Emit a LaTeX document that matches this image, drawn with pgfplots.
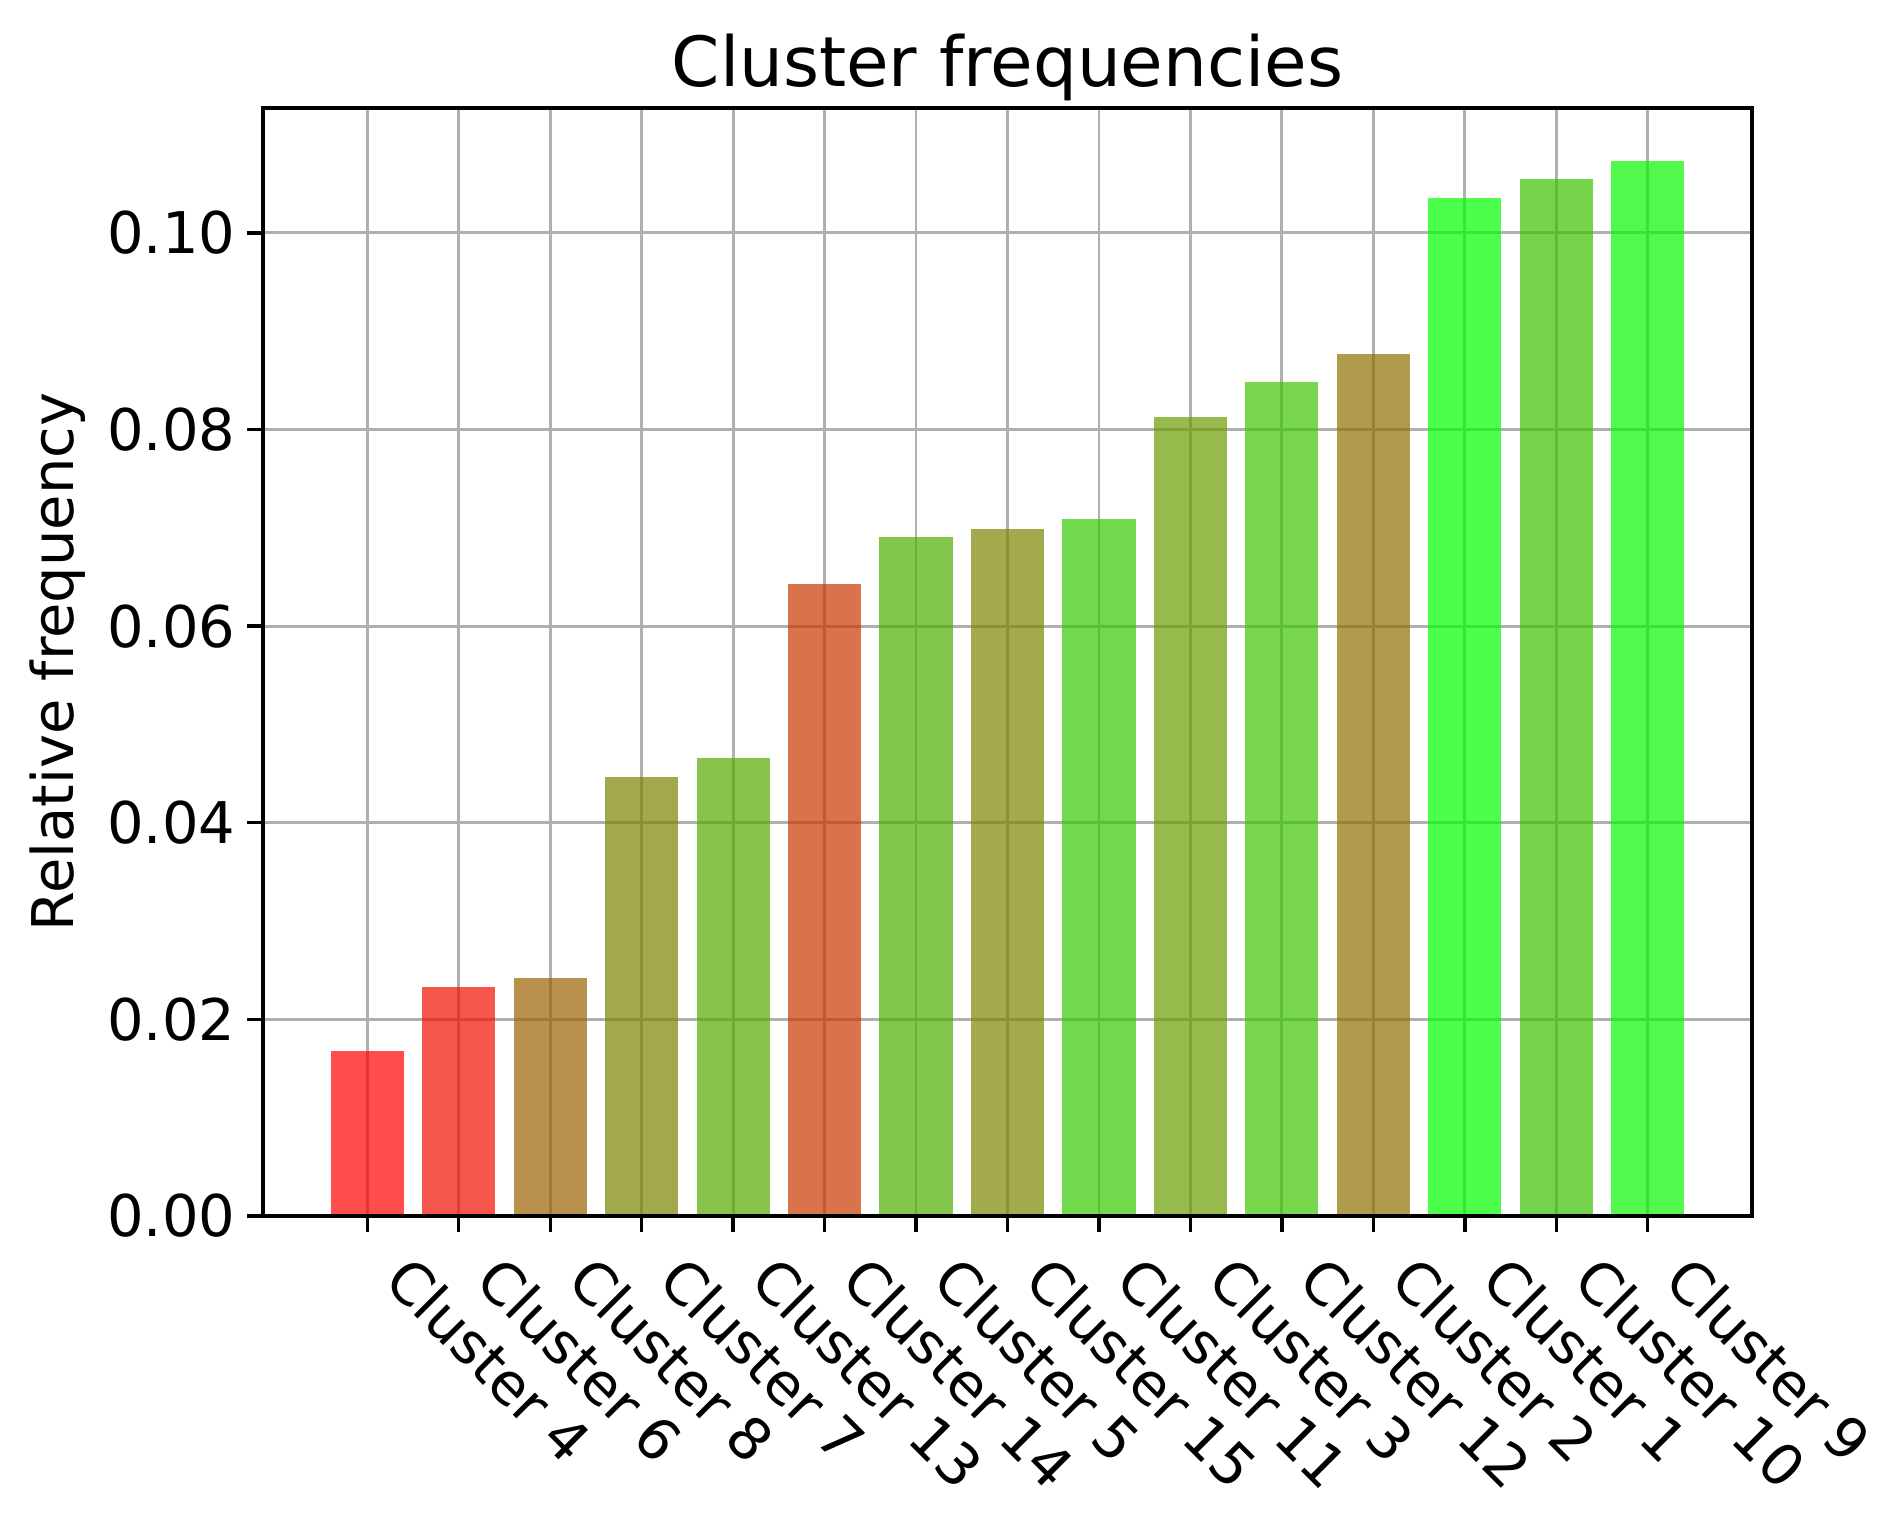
\documentclass[border=0pt]{standalone}
\usepackage{fontspec}
\setmainfont{DejaVu Sans}
\usepackage{pgfplots}
\pgfplotsset{compat=1.18}
\definecolor{gridgray}{RGB}{176,176,176}
\definecolor{c1}{RGB}{255,0,0}
\definecolor{c2}{RGB}{243,14,0}
\definecolor{c3}{RGB}{156,99,0}
\definecolor{c4}{RGB}{122,132,0}
\definecolor{c5}{RGB}{86,169,0}
\definecolor{c6}{RGB}{200,55,0}
\definecolor{c7}{RGB}{78,174,0}
\definecolor{c8}{RGB}{122,134,0}
\definecolor{c9}{RGB}{52,202,0}
\definecolor{c10}{RGB}{105,158,0}
\definecolor{c11}{RGB}{62,198,0}
\definecolor{c12}{RGB}{142,112,0}
\definecolor{c13}{RGB}{0,255,0}
\definecolor{c14}{RGB}{59,194,0}
\definecolor{c15}{RGB}{8,246,0}
\pgfplotsset{
  layers/mylayers/.define layer set={axis background,axis grid,main,axis ticks,axis lines,axis tick labels,axis descriptions,axis foreground}{
    grid style={/pgfplots/on layer=axis grid},
    tick style={/pgfplots/on layer=axis ticks},
    axis line style={/pgfplots/on layer=axis lines},
    label style={/pgfplots/on layer=axis descriptions},
    legend style={/pgfplots/on layer=axis descriptions},
    title style={/pgfplots/on layer=axis descriptions},
    colorbar style={/pgfplots/on layer=axis descriptions},
    ticklabel style={/pgfplots/on layer=axis tick labels},
    axis background@ style={/pgfplots/on layer=axis background},
    3d box foreground style={/pgfplots/on layer=axis foreground},
  },
}
\begin{document}
\begin{tikzpicture}
\begin{axis}[
  name=ax,
  set layers=mylayers,
  scale only axis,
  width=357.36pt, height=265.92pt,
  xmin=-1.14, xmax=15.14,
  ymin=0, ymax=0.1127,
  ybar, bar shift=0pt, bar width=0.8,
  xtick={0,...,14},
  xticklabels={Cluster 4,Cluster 6,Cluster 8,Cluster 7,Cluster 13,Cluster 14,Cluster 5,Cluster 15,Cluster 11,Cluster 3,Cluster 12,Cluster 2,Cluster 1,Cluster 10,Cluster 9},
  ytick={0,0.02,0.04,0.06,0.08,0.10},
  /pgf/number format/fixed,
  /pgf/number format/fixed zerofill,
  /pgf/number format/precision=2,
  /pgf/number format/assume math mode=true,
  scaled y ticks=false,
  xtick pos=left, ytick pos=left,
  tick align=outside,
  major tick length=3.8pt,
  tick style={black, line width=0.8pt},
  axis line style={black, line width=0.75pt},
  grid=major,
  major grid style={gridgray, line width=0.68pt},
  ticklabel style={font=\fontsize{13.8}{16}\selectfont},
  xticklabel style={anchor=north west, inner sep=0pt, xshift=11pt, yshift=-4.7pt, rotate=-45},
  yticklabel style={anchor=east, inner sep=0pt, xshift=-2.64pt},
  ylabel={Relative frequency},
  ylabel style={font=\fontsize{13.8}{16}\selectfont, at={(axis description cs:0,0.5)}, anchor=center, yshift=49.4pt},
  title={Cluster frequencies},
  title style={font=\fontsize{16.6}{20}\selectfont, at={(axis description cs:0.5,1)}, anchor=base, yshift=-0.9pt},
  every axis plot/.append style={draw=none, fill opacity=0.7},
]
\addplot[fill=c1] coordinates {(0,0.01677)};
\addplot[fill=c2] coordinates {(1,0.02328)};
\addplot[fill=c3] coordinates {(2,0.02419)};
\addplot[fill=c4] coordinates {(3,0.04464)};
\addplot[fill=c5] coordinates {(4,0.04661)};
\addplot[fill=c6] coordinates {(5,0.06424)};
\addplot[fill=c7] coordinates {(6,0.06905)};
\addplot[fill=c8] coordinates {(7,0.06991)};
\addplot[fill=c9] coordinates {(8,0.07090)};
\addplot[fill=c10] coordinates {(9,0.08126)};
\addplot[fill=c11] coordinates {(10,0.08483)};
\addplot[fill=c12] coordinates {(11,0.08767)};
\addplot[fill=c13] coordinates {(12,0.10358)};
\addplot[fill=c14] coordinates {(13,0.10543)};
\addplot[fill=c15] coordinates {(14,0.10735)};
\end{axis}
\pgfresetboundingbox
\path[use as bounding box] ([xshift=-63.12pt,yshift=-74.88pt]ax.south west) rectangle ([xshift=36pt,yshift=25.92pt]ax.north east);
\end{tikzpicture}
\end{document}
